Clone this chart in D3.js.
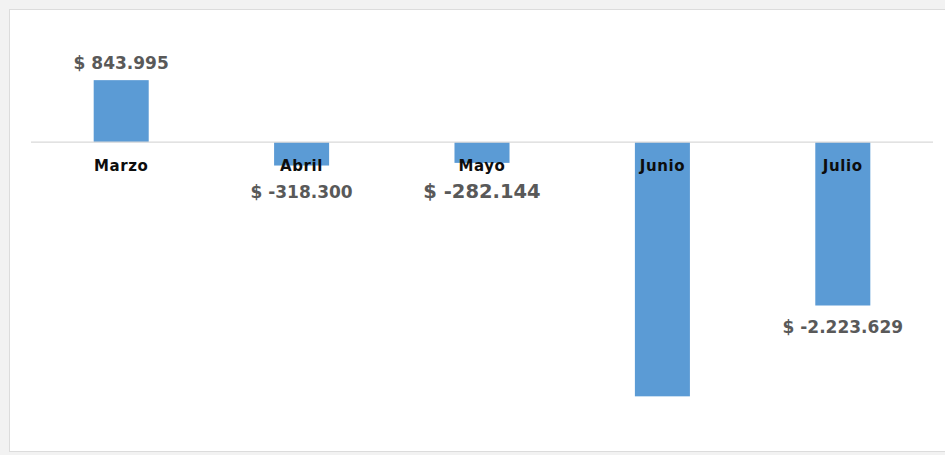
<html>
<head>
<script src="https://d3js.org/d3.v7.min.js"></script>
<style>
    body { margin: 0; background: #f2f2f2; }
    .cat { font-family: "DejaVu Sans", Verdana, sans-serif; font-weight: bold; fill: #0d0d0d; letter-spacing: 0.6px; }
    .val { font-family: "DejaVu Sans", Verdana, sans-serif; font-weight: bold; fill: #595959; }
</style>
</head>
<body>
<svg id="chart" width="945" height="455"></svg>
<script>
    // datos del grafico
    const meses = ["Marzo", "Abril", "Mayo", "Junio", "Julio"];
    const valores = [843995, -318300, -282144, -3460000, -2223629];
    const etiquetas = ["$ 843.995", "$ -318.300", "$ -282.144", "", "$ -2.223.629"];

    const svg = d3.select("#chart");
    const width = +svg.attr("width");
    const height = +svg.attr("height");

    // panel blanco
    svg.append("rect")
        .attr("x", 9.5).attr("y", 9.5)
        .attr("width", width).attr("height", height - 13)
        .attr("fill", "white")
        .attr("stroke", "#dcdcdc");

    const x = d3.scaleBand()
        .domain(meses)
        .range([31, 933])
        .paddingInner(0.695)
        .paddingOuter(0.3475);

    const y = d3.scaleLinear()
        .domain([-4000000, 1200000])
        .range([436, 54]);

    // barras
    svg.selectAll("rect.bar").data(meses)
        .join("rect")
        .attr("class", "bar")
        .attr("x", d => x(d))
        .attr("width", x.bandwidth())
        .attr("y", (d, i) => y(Math.max(0, valores[i])))
        .attr("height", (d, i) => Math.abs(y(valores[i]) - y(0)))
        .attr("fill", "#5b9bd5");

    // linea del cero
    svg.append("line")
        .attr("x1", 31).attr("x2", 933)
        .attr("y1", y(0)).attr("y2", y(0))
        .attr("stroke", "#d9d9d9")
        .attr("stroke-width", 1.2);

    // etiquetas de categoria
    svg.selectAll("text.cat").data(meses)
        .join("text")
        .attr("class", "cat")
        .attr("x", d => x(d) + x.bandwidth() / 2)
        .attr("y", y(0) + 29)
        .attr("text-anchor", "middle")
        .style("font-size", "15px")
        .text(d => d);

    // etiquetas de valor
    const tam = [17, 17, 19.5, 17, 17];
    svg.selectAll("text.val").data(meses)
        .join("text")
        .attr("class", "val")
        .attr("x", d => x(d) + x.bandwidth() / 2)
        .attr("y", (d, i) => {
            if (valores[i] >= 0) return y(valores[i]) - 11;
            if (i == 4) return y(valores[i]) + 27;
            return y(0) + 56;
        })
        .attr("text-anchor", "middle")
        .style("font-size", (d, i) => tam[i] + "px")
        .text((d, i) => etiquetas[i]);
</script>
</body>
</html>
